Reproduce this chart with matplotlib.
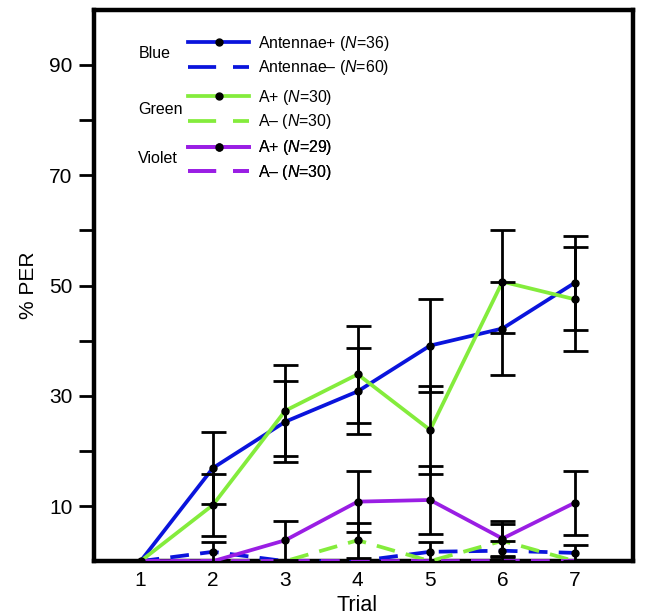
import matplotlib
matplotlib.use("Agg")
import matplotlib.pyplot as plt
from matplotlib.lines import Line2D

plt.rcParams['font.family'] = ['Liberation Sans', 'DejaVu Sans']
plt.rcParams['mathtext.fontset'] = 'custom'
plt.rcParams['mathtext.it'] = 'Liberation Sans:italic'
plt.rcParams['mathtext.rm'] = 'Liberation Sans'

trials = [1, 2, 3, 4, 5, 6, 7]

blue_pos = [0, 16.9, 25.3, 30.8, 39.1, 42.2, 50.5]
blue_pos_err = [0, 6.6, 7.4, 7.8, 8.4, 8.4, 8.5]
blue_neg = [0, 1.7, 0, 0, 1.7, 1.9, 1.5]
blue_neg_err = [0, 1.8, 0, 0, 1.8, 1.8, 1.5]

green_pos = [0, 10.2, 27.3, 33.9, 23.8, 50.7, 47.5]
green_pos_err = [0, 5.7, 8.2, 8.8, 7.9, 9.4, 9.4]
green_neg = [0, 0, 0, 3.8, 0, 3.7, 0]
green_neg_err = [0, 0, 0, 3.2, 0, 3.0, 0]

violet_pos = [0, 0, 3.8, 10.8, 11.1, 4.1, 10.6]
violet_pos_err = [0, 0, 3.5, 5.5, 6.2, 3.2, 5.8]
violet_neg = [0, 0, 0, 0, 0, 0, 0]
violet_neg_err = [0, 0, 0, 0, 0, 0, 0]

c_blue = '#0a14dc'
c_green = '#84ec3c'
c_violet = '#9a1ee4'

series = [
    (blue_pos, blue_pos_err, c_blue, '-'),
    (blue_neg, blue_neg_err, c_blue, '--'),
    (green_pos, green_pos_err, c_green, '-'),
    (green_neg, green_neg_err, c_green, '--'),
    (violet_pos, violet_pos_err, c_violet, '-'),
    (violet_neg, violet_neg_err, c_violet, '--'),
]

fig = plt.figure(figsize=(6.45, 6.16), dpi=100)
ax = fig.add_axes([0.145, 0.089, 0.836, 0.895])

for vals, errs, col, ls in series:
    if ls == '--':
        ax.plot(trials, vals, color=col, linestyle='--', dashes=(5, 3),
                linewidth=2.7, zorder=3)
    else:
        ax.plot(trials, vals, color=col, linestyle='-', linewidth=2.7, zorder=3)
    pts = [(t, v, e) for t, v, e in zip(trials, vals, errs) if e > 0 or v > 0]
    if pts:
        ax.errorbar([p[0] for p in pts], [p[1] for p in pts],
                    yerr=[p[2] for p in pts],
                    fmt='o', color='black', markersize=5, elinewidth=2,
                    capsize=9, capthick=2, zorder=4)
ax.plot([trials[0]], [blue_pos[0]], 'o', color='black', markersize=5, zorder=5)

ax.set_xlim(0.35, 7.8)
ax.set_ylim(0, 100)
ax.set_xticks(trials)
ax.set_yticks([10, 20, 30, 40, 50, 60, 70, 80, 90])
ax.set_yticklabels(['10', '', '30', '', '50', '', '70', '', '90'])
ax.tick_params(axis='y', direction='out', length=11, width=2, labelsize=15, pad=4)
ax.tick_params(axis='x', length=0, labelsize=15, pad=7)
for s in ax.spines.values():
    s.set_linewidth(3.2)
ax.set_xlabel('Trial', fontsize=15.5)
ax.xaxis.set_label_coords(0.488, -0.062, transform=ax.transAxes)
ax.xaxis.label.set_va('top')
ax.set_ylabel('% PER', fontsize=15, labelpad=8)

groups = [
    ('Blue', c_blue, ['Antennae+ ($N$=36)', 'Antennae\u2013 ($N$=60)'], 0.957, 0.921),
    ('Green', c_green, ['A+ ($N$=30)', 'A\u2013 ($N$=30)'], 0.859, 0.819),
    ('Violet', c_violet, ['A+ ($N$=29)', 'A\u2013 ($N$=30)'], 0.767, 0.731),
]
for name, col, labels, ytop, ylab in groups:
    h1 = Line2D([], [], color=col, linewidth=2.7, marker='o', markerfacecolor='black',
                markeredgecolor='black', markersize=5)
    h2 = Line2D([], [], color=col, linewidth=2.7, linestyle='--', dashes=(7.5, 4.5))
    leg = ax.legend([h1, h2], labels, loc='upper left', bbox_to_anchor=(0.176, ytop),
                    frameon=False, fontsize=11.4, handlelength=3.8, handletextpad=0.6,
                    labelspacing=0.36, numpoints=1, borderpad=0, borderaxespad=0)
    ax.add_artist(leg)
    ax.text(0.083, ylab, name, transform=ax.transAxes, fontsize=11.5,
            va='center', ha='left')

fig.savefig('out.png', dpi=100)
